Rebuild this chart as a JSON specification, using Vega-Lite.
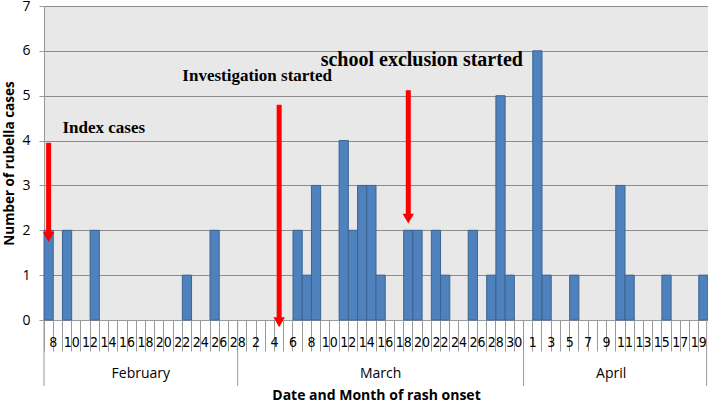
{
  "$schema": "https://vega.github.io/schema/vega-lite/v6.json",
  "autosize": {"type": "none"},
  "padding": {"left": 44, "top": 6, "right": 0, "bottom": 83},
  "width": 664,
  "height": 314,
  "background": "white",
  "config": {
    "view": {"stroke": null, "fill": "#e8e8e8"},
    "font": "Open Sans"
  },
  "datasets": {
    "days": [
      {"date": "2015-02-08", "n": 2}, {"date": "2015-02-09", "n": 0}, {"date": "2015-02-10", "n": 2}, {"date": "2015-02-11", "n": 0},
      {"date": "2015-02-12", "n": 0}, {"date": "2015-02-13", "n": 2}, {"date": "2015-02-14", "n": 0}, {"date": "2015-02-15", "n": 0},
      {"date": "2015-02-16", "n": 0}, {"date": "2015-02-17", "n": 0}, {"date": "2015-02-18", "n": 0}, {"date": "2015-02-19", "n": 0},
      {"date": "2015-02-20", "n": 0}, {"date": "2015-02-21", "n": 0}, {"date": "2015-02-22", "n": 0}, {"date": "2015-02-23", "n": 1},
      {"date": "2015-02-24", "n": 0}, {"date": "2015-02-25", "n": 0}, {"date": "2015-02-26", "n": 2}, {"date": "2015-02-27", "n": 0},
      {"date": "2015-02-28", "n": 0},
      {"date": "2015-03-01", "n": 0}, {"date": "2015-03-02", "n": 0}, {"date": "2015-03-03", "n": 0}, {"date": "2015-03-04", "n": 0},
      {"date": "2015-03-05", "n": 0}, {"date": "2015-03-06", "n": 0}, {"date": "2015-03-07", "n": 2}, {"date": "2015-03-08", "n": 1},
      {"date": "2015-03-09", "n": 3}, {"date": "2015-03-10", "n": 0}, {"date": "2015-03-11", "n": 0}, {"date": "2015-03-12", "n": 4},
      {"date": "2015-03-13", "n": 2}, {"date": "2015-03-14", "n": 3}, {"date": "2015-03-15", "n": 3}, {"date": "2015-03-16", "n": 1},
      {"date": "2015-03-17", "n": 0}, {"date": "2015-03-18", "n": 0}, {"date": "2015-03-19", "n": 2}, {"date": "2015-03-20", "n": 2},
      {"date": "2015-03-21", "n": 0}, {"date": "2015-03-22", "n": 2}, {"date": "2015-03-23", "n": 1}, {"date": "2015-03-24", "n": 0},
      {"date": "2015-03-25", "n": 0}, {"date": "2015-03-26", "n": 2}, {"date": "2015-03-27", "n": 0}, {"date": "2015-03-28", "n": 1},
      {"date": "2015-03-29", "n": 5}, {"date": "2015-03-30", "n": 1}, {"date": "2015-03-31", "n": 0},
      {"date": "2015-04-01", "n": 0}, {"date": "2015-04-02", "n": 6}, {"date": "2015-04-03", "n": 1}, {"date": "2015-04-04", "n": 0},
      {"date": "2015-04-05", "n": 0}, {"date": "2015-04-06", "n": 1}, {"date": "2015-04-07", "n": 0}, {"date": "2015-04-08", "n": 0},
      {"date": "2015-04-09", "n": 0}, {"date": "2015-04-10", "n": 0}, {"date": "2015-04-11", "n": 3}, {"date": "2015-04-12", "n": 1},
      {"date": "2015-04-13", "n": 0}, {"date": "2015-04-14", "n": 0}, {"date": "2015-04-15", "n": 0}, {"date": "2015-04-16", "n": 1},
      {"date": "2015-04-17", "n": 0}, {"date": "2015-04-18", "n": 0}, {"date": "2015-04-19", "n": 0}, {"date": "2015-04-20", "n": 1}
    ],
    "arrows": [
      {"event": "Index cases", "date": "2015-02-08", "top": 3.95, "tip": 1.85},
      {"event": "Investigation started", "date": "2015-03-05", "top": 4.8, "tip": -0.05},
      {"event": "school exclusion started", "date": "2015-03-19", "top": 5.12, "tip": 2.26}
    ],
    "notes": [
      {"label": "Index cases", "date": "2015-02-10", "y": 4.27},
      {"label": "Investigation started", "date": "2015-02-23", "y": 5.43},
      {"label": "school exclusion started", "date": "2015-03-10", "y": 5.79}
    ],
    "months": [
      {"month": "February", "date": "2015-02-18"},
      {"month": "March", "date": "2015-03-16"},
      {"month": "April", "date": "2015-04-10"}
    ],
    "starts": [
      {"date": "2015-02-08"}, {"date": "2015-03-01"}, {"date": "2015-04-01"}
    ],
    "ends": [
      {"date": "2015-04-20"}
    ]
  },
  "encoding": {
    "x": {
      "field": "date",
      "type": "ordinal",
      "scale": {"paddingInner": 0, "paddingOuter": 0},
      "axis": {
        "title": "Date and Month of rash onset",
        "labelAngle": 0,
        "bandPosition": 0,
        "tickSize": 31,
        "tickColor": "#9a9a9a",
        "domainColor": "#9a9a9a",
        "labelPadding": -16,
        "labelOffset": 4.6,
        "labelOverlap": false,
        "labelExpr": "((slice(datum.value,5,7)=='04') == (toNumber(slice(datum.value,8))%2==1)) ? toNumber(slice(datum.value,8)) : ''",
        "labelFont": "Liberation Sans Narrow, DejaVu Sans Condensed, Roboto Condensed, Open Sans",
        "labelFontSize": 14,
        "labelColor": "#000000",
        "titleFont": "Open Sans",
        "titleFontWeight": "bold",
        "titleFontSize": 14,
        "titleColor": "#000000",
        "titlePadding": 37
      }
    }
  },
  "layer": [
    {
      "data": {"name": "days"},
      "mark": {"type": "bar", "fill": "#4f81bd", "stroke": "#3b6493", "strokeWidth": 1},
      "encoding": {
        "y": {
          "field": "n",
          "type": "quantitative",
          "scale": {"domain": [0, 7], "nice": false},
          "axis": {
            "title": "Number of rubella cases",
            "values": [0, 1, 2, 3, 4, 5, 6, 7],
            "tickSize": 5,
            "tickColor": "#9a9a9a",
            "domainColor": "#9a9a9a",
            "grid": true,
            "gridColor": "#8c8c8c",
            "gridWidth": 1,
            "labelFontSize": 14,
            "labelPadding": 9,
            "labelColor": "#000000",
            "labelFont": "Open Sans",
            "titleFont": "Open Sans",
            "titleFontWeight": "bold",
            "titleFontSize": 13.5,
            "titleColor": "#000000",
            "titlePadding": 5
          }
        },
        "strokeOpacity": {"condition": {"test": "datum.n == 0", "value": 0}, "value": 1}
      }
    },
    {
      "data": {"name": "starts"},
      "mark": {"type": "rule", "color": "#9a9a9a", "strokeWidth": 1},
      "encoding": {
        "x": {"field": "date", "type": "ordinal", "bandPosition": 0},
        "y": {"datum": 0},
        "y2": {"datum": -1.47}
      }
    },
    {
      "data": {"name": "ends"},
      "mark": {"type": "rule", "color": "#9a9a9a", "strokeWidth": 1},
      "encoding": {
        "x": {"field": "date", "type": "ordinal", "bandPosition": 0.85},
        "y": {"datum": 0},
        "y2": {"datum": -1.47}
      }
    },
    {
      "data": {"name": "months"},
      "mark": {"type": "text", "fontSize": 14, "font": "Open Sans", "color": "#000000", "baseline": "middle", "align": "center"},
      "encoding": {
        "x": {"field": "date", "type": "ordinal", "bandPosition": 0.5},
        "y": {"datum": -1.2},
        "text": {"field": "month"}
      }
    },
    {
      "data": {"name": "arrows"},
      "mark": {"type": "rule", "color": "#ff0000", "strokeWidth": 5},
      "encoding": {
        "x": {"field": "date", "type": "ordinal", "bandPosition": 0.5},
        "y": {"field": "top", "type": "quantitative"},
        "y2": {"field": "tip"}
      }
    },
    {
      "data": {"name": "arrows"},
      "mark": {"type": "point", "shape": "triangle-down", "filled": true, "color": "#ff0000", "opacity": 1, "size": 130},
      "encoding": {
        "x": {"field": "date", "type": "ordinal", "bandPosition": 0.5},
        "y": {"field": "tip", "type": "quantitative"}
      }
    },
    {
      "data": {"name": "notes"},
      "mark": {"type": "text", "font": "Liberation Serif", "fontWeight": "bold", "color": "#000000", "align": "left", "baseline": "middle"},
      "encoding": {
        "x": {"field": "date", "type": "ordinal", "bandPosition": 0},
        "y": {"field": "y", "type": "quantitative"},
        "text": {"field": "label"},
        "size": {"condition": {"test": "datum.label == 'school exclusion started'", "value": 20}, "value": 17}
      }
    }
  ]
}
